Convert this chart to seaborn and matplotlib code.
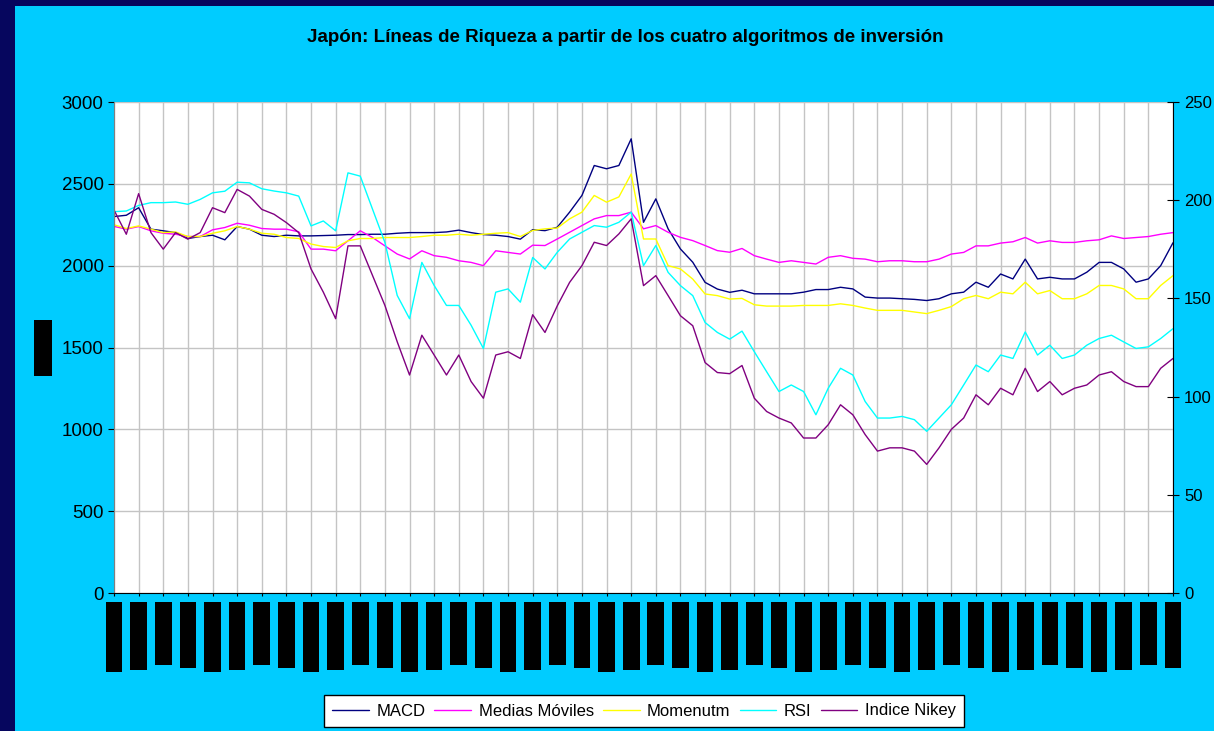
import matplotlib
matplotlib.use("Agg")
import matplotlib.pyplot as plt
import numpy as np
import pandas as pd
import seaborn as sns
from matplotlib.patches import Rectangle

# Valores (eje izquierdo), uno cada media división del eje X
macd = [
    2300, 2308, 2354, 2223, 2213, 2202, 2166, 2178, 2186, 2158,
    2239, 2223, 2186, 2178, 2186, 2182, 2182, 2184, 2186, 2190,
    2190, 2192, 2192, 2198, 2202, 2202, 2202, 2206, 2217, 2202,
    2190, 2186, 2178, 2162, 2220, 2214, 2235, 2327, 2429, 2612,
    2592, 2612, 2775, 2265, 2408, 2225, 2102, 2021, 1898, 1857,
    1837, 1850, 1828, 1828, 1828, 1828, 1838, 1854, 1854, 1868,
    1858, 1808, 1802, 1802, 1798, 1794, 1787, 1798, 1828, 1838,
    1899, 1868, 1949, 1919, 2040, 1919, 1929, 1919, 1919, 1960,
    2020, 2020, 1980, 1899, 1919, 2000, 2140,
]
medias_moviles = [
    2240, 2223, 2239, 2213, 2198, 2192, 2178, 2178, 2219, 2233,
    2259, 2247, 2227, 2223, 2223, 2207, 2101, 2101, 2091, 2152,
    2213, 2172, 2121, 2071, 2041, 2091, 2061, 2051, 2030, 2020,
    2000, 2091, 2081, 2071, 2125, 2123, 2163, 2204, 2245, 2286,
    2306, 2306, 2327, 2225, 2245, 2204, 2173, 2153, 2123, 2092,
    2082, 2105, 2061, 2040, 2020, 2030, 2020, 2010, 2051, 2061,
    2045, 2040, 2024, 2030, 2030, 2024, 2024, 2040, 2071, 2081,
    2121, 2121, 2138, 2146, 2172, 2138, 2152, 2142, 2142, 2152,
    2158, 2182, 2166, 2172, 2178, 2192, 2202,
]
momentum = [
    2250, 2227, 2243, 2223, 2202, 2206, 2178, 2178, 2198, 2213,
    2239, 2223, 2198, 2192, 2172, 2166, 2132, 2117, 2111, 2152,
    2166, 2166, 2172, 2172, 2172, 2178, 2186, 2186, 2192, 2186,
    2192, 2198, 2202, 2178, 2215, 2225, 2230, 2286, 2327, 2429,
    2388, 2420, 2560, 2163, 2163, 2000, 1980, 1918, 1827, 1817,
    1796, 1800, 1761, 1753, 1753, 1753, 1757, 1757, 1757, 1767,
    1757, 1741, 1727, 1727, 1727, 1717, 1707, 1727, 1750, 1798,
    1818, 1798, 1838, 1828, 1899, 1828, 1848, 1798, 1798, 1828,
    1879, 1879, 1858, 1798, 1798, 1879, 1939,
]
rsi = [
    2330, 2334, 2368, 2385, 2385, 2389, 2375, 2405, 2445, 2455,
    2510, 2506, 2470, 2456, 2445, 2425, 2243, 2273, 2213, 2567,
    2547, 2344, 2142, 1818, 1676, 2020, 1879, 1757, 1757, 1636,
    1494, 1838, 1858, 1777, 2050, 1980, 2082, 2163, 2204, 2245,
    2235, 2265, 2327, 2000, 2123, 1959, 1878, 1817, 1653, 1592,
    1551, 1600, 1474, 1352, 1231, 1271, 1231, 1089, 1251, 1373,
    1332, 1170, 1069, 1069, 1079, 1059, 988, 1069, 1150, 1271,
    1393, 1352, 1454, 1433, 1595, 1454, 1514, 1433, 1454, 1514,
    1555, 1575, 1534, 1494, 1504, 1555, 1615,
]
nikkei = [
    2340, 2192, 2440, 2202, 2101, 2202, 2162, 2202, 2354, 2324,
    2466, 2425, 2344, 2314, 2263, 2202, 1980, 1838, 1676, 2121,
    2121, 1939, 1757, 1535, 1332, 1575, 1454, 1332, 1454, 1292,
    1190, 1454, 1474, 1433, 1700, 1592, 1755, 1898, 2000, 2143,
    2123, 2194, 2286, 1878, 1939, 1817, 1694, 1633, 1408, 1347,
    1340, 1390, 1190, 1109, 1069, 1039, 947, 947, 1028, 1150,
    1089, 968, 867, 887, 887, 867, 786, 887, 1000, 1069,
    1211, 1150, 1251, 1211, 1373, 1231, 1292, 1211, 1251, 1271,
    1332, 1352, 1292, 1261, 1261, 1373, 1433,
]

series_names = ["MACD", "Medias Móviles", "Momenutm", "RSI", "Indice Nikey"]
series_colors = ["#000080", "#FF00FF", "#FFFF00", "#00FFFF", "#800080"]

tick_labels = [
    "02-ene-1997", "01-abr-1997", "01-jul-1997", "01-oct-1997",
    "02-ene-1998", "01-abr-1998", "01-jul-1998", "01-oct-1998",
    "04-ene-1999", "01-abr-1999", "01-jul-1999", "01-oct-1999",
    "03-ene-2000", "03-abr-2000", "03-jul-2000", "02-oct-2000",
    "02-ene-2001", "02-abr-2001", "02-jul-2001", "01-oct-2001",
    "02-ene-2002", "01-abr-2002", "01-jul-2002", "01-oct-2002",
    "02-ene-2003", "01-abr-2003", "01-jul-2003", "01-oct-2003",
    "02-ene-2004", "01-abr-2004", "01-jul-2004", "01-oct-2004",
    "03-ene-2005", "01-abr-2005", "01-jul-2005", "03-oct-2005",
    "02-ene-2006", "03-abr-2006", "03-jul-2006", "02-oct-2006",
    "02-ene-2007", "02-abr-2007", "02-jul-2007", "01-oct-2007",
]
left_ticks = [0, 500, 1000, 1500, 2000, 2500, 3000]
right_ticks = [0, 50, 100, 150, 200, 250]

sns.set_style("white")
plt.rcParams["font.family"] = ["Liberation Sans", "DejaVu Sans"]
plt.rcParams.update({
    "text.color": "black",
    "axes.labelcolor": "black",
    "xtick.color": "black",
    "ytick.color": "black",
})

all_series = [macd, medias_moviles, momentum, rsi, nikkei]
df = pd.concat(
    [
        pd.DataFrame({"t": np.arange(len(vals)), "valor": vals, "serie": name})
        for name, vals in zip(series_names, all_series)
    ],
    ignore_index=True,
)
n = len(macd)

fig = plt.figure(figsize=(12.14, 7.31), dpi=100, facecolor="#06065E")
fig.add_artist(
    Rectangle((15 / 1214, 0), 1, 1 - 6 / 731, transform=fig.transFigure,
              facecolor="#00CCFF", edgecolor="none", zorder=0)
)

ax = fig.add_axes([114 / 1214, 1 - 593 / 731, 1059 / 1214, 491 / 731])
ax.set_facecolor("white")

sns.lineplot(
    data=df, x="t", y="valor", hue="serie", hue_order=series_names,
    palette=dict(zip(series_names, series_colors)), linewidth=1.0, ax=ax,
)
handles, labels = ax.get_legend_handles_labels()
ax.get_legend().remove()

ax.set_xlim(0, n - 1)
ax.set_ylim(0, 3000)
ax.set_yticks(left_ticks)
ax.set_yticklabels([str(v) for v in left_ticks], fontsize=13.5)
ax.set_xticks(np.arange(0, n, 2))
ax.set_xticklabels(
    tick_labels, rotation=90, fontsize=8, color="black", va="top",
    bbox=dict(boxstyle="square,pad=0.3", facecolor="black", edgecolor="none"),
)
ax.tick_params(axis="x", direction="out", length=2.5, width=0.8, pad=6.5, bottom=True)
ax.tick_params(axis="y", direction="out", length=4.5, width=0.8, pad=3, left=True)
ax.grid(True, color="#C4C4C4", linewidth=1.0)
ax.set_axisbelow(True)
ax.set_xlabel("")
ax.set_ylabel(
    "Riqueza", fontsize=10, color="black",
    bbox=dict(boxstyle="square,pad=0.15", facecolor="black", edgecolor="none"),
)
ax.yaxis.set_label_coords((50 - 114) / 1059, (593 - 348) / 491)
ax.spines["top"].set_visible(False)
ax.spines["left"].set_color("#808080")
ax.spines["bottom"].set_color("black")
ax.spines["right"].set_visible(False)

ax2 = ax.twinx()
ax2.set_ylim(0, 250)
ax2.set_yticks(right_ticks)
ax2.set_yticklabels([str(v) for v in right_ticks], fontsize=12)
ax2.tick_params(axis="y", direction="inout", length=9, width=0.8, pad=3.5, right=True)
ax2.grid(False)
for side in ["top", "left", "bottom"]:
    ax2.spines[side].set_visible(False)
ax2.spines["right"].set_color("black")

fig.text(0.515, 1 - 37 / 731, "Japón: Líneas de Riqueza a partir de los cuatro algoritmos de inversión",
         ha="center", va="center", fontsize=13.5, fontweight="bold", color="black")

leg = fig.legend(
    handles, labels, loc="center", bbox_to_anchor=(644 / 1214, 1 - 711 / 731),
    ncol=5, fontsize=12, frameon=True, fancybox=False, edgecolor="black",
    framealpha=1, handlelength=2.2, handletextpad=0.45, columnspacing=0.55,
    borderpad=0.5, borderaxespad=0,
)
leg.get_frame().set_linewidth(1.0)
for txt in leg.get_texts():
    txt.set_color("black")

fig.savefig("out.png", dpi=100, facecolor=fig.get_facecolor())
